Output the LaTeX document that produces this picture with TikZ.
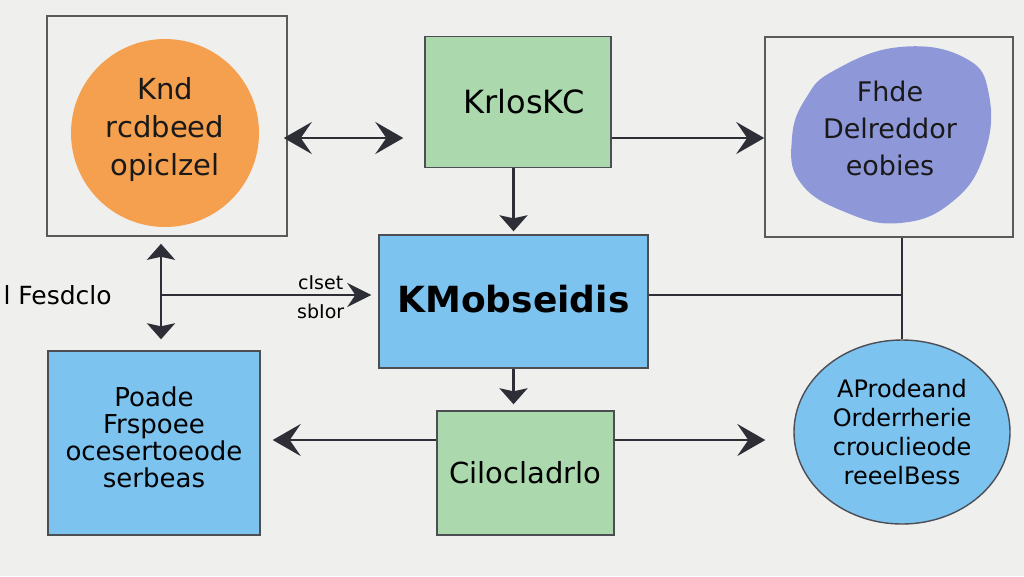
\documentclass[tikz,border=0pt]{standalone}
\usepackage{fontspec}
\setmainfont{DejaVu Sans}
\usetikzlibrary{shapes,shapes.misc,arrows.meta}
\definecolor{paper}{HTML}{EFEFEE}
\definecolor{ink}{HTML}{2E2E36}
\definecolor{framegray}{HTML}{5A5A5A}
\definecolor{orangefill}{HTML}{F5A04E}
\definecolor{greenfill}{HTML}{9FD4A2}
\definecolor{bluefill}{HTML}{7CC3F0}
\definecolor{purplefill}{HTML}{8E98D8}

\begin{document}
\begin{tikzpicture}[x=1pt,y=-1pt]
   \fill[paper] (0,0) rectangle (1024,576);
   \useasboundingbox (0,0) rectangle (1024,576);
   \tikzstyle{frame}=[draw=framegray, line width=1.6pt, inner sep=0pt]
   \tikzstyle{box}=[draw=ink!85, line width=1.4pt, inner sep=0pt, align=center]
   \tikzstyle{big}=[-{Stealth[length=28pt,width=32pt,inset=11pt]}, line width=2.8pt, draw=ink]
   \tikzstyle{bigboth}=[{Stealth[length=28pt,width=32pt,inset=11pt]}-{Stealth[length=28pt,width=32pt,inset=11pt]}, line width=2.8pt, draw=ink]
   \tikzstyle{flat}=[-{Stealth[length=16pt,width=28pt,inset=3pt]}, line width=2.8pt, draw=ink]
   \tikzstyle{flatboth}=[{Stealth[length=16pt,width=28pt,inset=3pt]}-{Stealth[length=16pt,width=28pt,inset=3pt]}, line width=2.8pt, draw=ink]
   \tikzstyle{txt}=[align=center, text=black!90, font=\fontsize{29}{38}\selectfont]
   % top row
   \node[frame, minimum width=240, minimum height=220] (frame1) at (167,126) {};
   \node[circle, fill=orangefill, minimum size=188] (source) at (165,133) {};
   \node[txt] (sourcetext) at (165,129) {Knd\\rcdbeed\\opiclzel};
   \node[box, fill=greenfill!88!white, minimum width=186, minimum height=131,
         font=\fontsize{32}{38}\selectfont] (kernel) at (518,102) {\hspace*{12pt}KrlosKC};
   \node[frame, minimum width=248, minimum height=200] (frame2) at (889,137) {};
   \fill[purplefill] plot[smooth cycle, tension=0.75] coordinates
      {(835,70) (900,47) (965,58) (989,95) (984,155) (952,202) (900,223) (845,212) (800,182) (792,138) (806,98)};
   \node[txt, font=\fontsize{27}{37}\selectfont] (blob) at (890,128) {Fhde\\Delreddor\\eobies};
   \coordinate (row) at (0,138);
   \path (frame1.east |- row) edge[bigboth, shorten <=-4, shorten >=21] (kernel.west |- row);
   \path (kernel.east |- row) edge[big] (frame2.west |- row);
   % middle row
   \node[box, fill=bluefill, minimum width=269, minimum height=133,
         font=\fontsize{36}{40}\selectfont\bfseries] (core) at (513.5,301.5) {\raisebox{5pt}{KMobseidis}};
   \node[font=\fontsize{25}{28}\selectfont, anchor=west] (fes) at (0,295) {l Fesdclo};
   \node[box, fill=bluefill, minimum width=212, minimum height=184,
         font=\fontsize{26}{27}\selectfont] (leftbox) at (154,443) {Poade\\Frspoee\\ocesertoeode\\serbeas\\[-15pt]};
   \coordinate (split) at (161,295);
   \path (frame1.south -| split) edge[flatboth, shorten <=7, shorten >=11] (leftbox.north -| split);
   \path (split) edge[big, -{Stealth[length=24pt,width=24pt,inset=8pt]}, shorten >=7]
      node[pos=0.735, above=1pt, font=\fontsize{19}{20}\selectfont] {cIset}
      node[pos=0.735, below=4pt, font=\fontsize{19}{20}\selectfont] {sbIor}
      (core.west |- split);
   \path (kernel.south -| core.north) edge[flat, shorten >=3] (core.north);
   % bottom row
   \node[box, fill=greenfill!88!white, minimum width=177, minimum height=124,
         font=\fontsize{29}{34}\selectfont] (bottom) at (525.5,473) {\raisebox{-12pt}{Cilocladrlo}};
   \node[ellipse, box, fill=bluefill, minimum width=216, minimum height=184,
         font=\fontsize{24}{29}\selectfont] (oval) at (902,432) {AProdeand\\Orderrherie\\crouclieode\\reeelBess};
   \coordinate (low) at (0,440);
   \path (core.south) edge[flat, shorten >=6] (bottom.north -| core.south);
   \path (bottom.west |- low) edge[big, shorten >=12] (leftbox.east |- low);
   \path (bottom.east |- low) edge[big, shorten >=28] (oval.west |- low);
   \draw[ink, line width=2.4pt] (core.east |- split) -- (split -| oval.north);
   \draw[ink, line width=2.4pt] (frame2.south -| oval.north) -- (oval.north);
\end{tikzpicture}
\end{document}
